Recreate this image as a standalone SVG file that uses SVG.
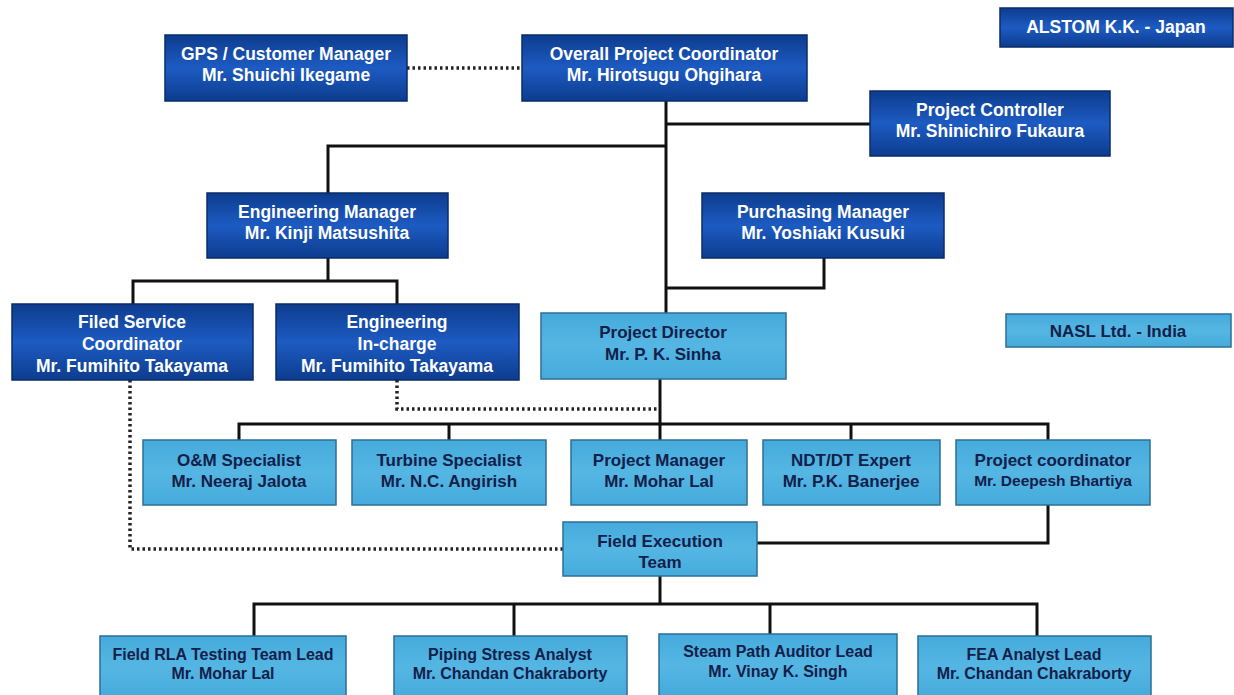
<svg xmlns="http://www.w3.org/2000/svg" width="1234" height="695" viewBox="0 0 1234 695">
<defs>
<linearGradient id="dk" x1="0" y1="0" x2="0" y2="1">
<stop offset="0" stop-color="#0d3c8e"/>
<stop offset="0.5" stop-color="#1d5bc2"/>
<stop offset="1" stop-color="#0d3c8e"/>
</linearGradient>
<linearGradient id="lt" x1="0" y1="0" x2="0" y2="1">
<stop offset="0" stop-color="#45abdc"/>
<stop offset="0.5" stop-color="#55b6e3"/>
<stop offset="1" stop-color="#45abdc"/>
</linearGradient>
</defs>
<style>
.dk rect{fill:url(#dk);stroke:#0a2c6a;stroke-width:1.5}
.lt rect{fill:url(#lt);stroke:#2c6f95;stroke-width:1.5}
text{font-family:"Liberation Sans",Arial,sans-serif;font-weight:bold;font-size:17px;text-anchor:middle}
.dk text{fill:#ffffff;font-size:17.5px}
.lt text{fill:#13204a}
.sm{font-size:16px}
.ln{fill:none;stroke:#111;stroke-width:3}
.dt{fill:none;stroke:#222;stroke-width:3.5;stroke-dasharray:2.5 3}
</style>
<rect width="1234" height="695" fill="#ffffff"/>
<g id="connectors">
<path class="dt" d="M407 68 H522"/>
<path class="ln" d="M666 101 V313"/>
<path class="ln" d="M666 124 H870"/>
<path class="ln" d="M666 146 H328 V193"/>
<path class="ln" d="M824 258 V288 H666"/>
<path class="ln" d="M328 258 V281"/>
<path class="ln" d="M133 304 V281 H397 V304"/>
<path class="dt" d="M397 380 V409 H660"/>
<path class="ln" d="M660 379 V440"/>
<path class="ln" d="M239 440 V424 H1048 V440"/>
<path class="ln" d="M449 424 V440"/>
<path class="ln" d="M851 424 V440"/>
<path class="ln" d="M1048 505 V543 H757"/>
<path class="dt" d="M130 380 V549 H563"/>
<path class="ln" d="M660 576 V604"/>
<path class="ln" d="M254 636 V604 H1037 V636"/>
<path class="ln" d="M514 604 V636"/>
<path class="ln" d="M770 604 V634"/>
</g>
<g id="gps" class="dk"><rect x="165" y="35" width="242" height="66"/><text x="286" y="60">GPS / Customer Manager</text><text x="286" y="81">Mr. Shuichi Ikegame</text></g>
<g id="opc" class="dk"><rect x="522" y="35" width="285" height="66"/><text x="664" y="60">Overall Project Coordinator</text><text x="664" y="81">Mr. Hirotsugu Ohgihara</text></g>
<g id="alstom" class="dk"><rect x="1000" y="8" width="233" height="39"/><text x="1116" y="33">ALSTOM K.K. - Japan</text></g>
<g id="controller" class="dk"><rect x="870" y="91" width="240" height="65"/><text x="990" y="116">Project Controller</text><text x="990" y="137">Mr. Shinichiro Fukaura</text></g>
<g id="engmgr" class="dk"><rect x="207" y="193" width="241" height="65"/><text x="327" y="218">Engineering Manager</text><text x="327" y="239">Mr. Kinji Matsushita</text></g>
<g id="purch" class="dk"><rect x="702" y="193" width="242" height="65"/><text x="823" y="218">Purchasing Manager</text><text x="823" y="239">Mr. Yoshiaki Kusuki</text></g>
<g id="fsc" class="dk"><rect x="12" y="304" width="241" height="76"/><text x="132" y="328">Filed Service</text><text x="132" y="350">Coordinator</text><text x="132" y="372">Mr. Fumihito Takayama</text></g>
<g id="eic" class="dk"><rect x="276" y="304" width="243" height="76"/><text x="397" y="328">Engineering</text><text x="397" y="350">In-charge</text><text x="397" y="372">Mr. Fumihito Takayama</text></g>
<g id="pd" class="lt"><rect x="541" y="313" width="245" height="66"/><text x="663" y="338">Project Director</text><text x="663" y="360">Mr. P. K. Sinha</text></g>
<g id="nasl" class="lt"><rect x="1006" y="314" width="225" height="33"/><text x="1118" y="337">NASL Ltd. - India</text></g>
<g id="om" class="lt"><rect x="143" y="440" width="193" height="65"/><text x="239" y="466">O&amp;M Specialist</text><text x="239" y="487">Mr. Neeraj Jalota</text></g>
<g id="turb" class="lt"><rect x="352" y="440" width="194" height="65"/><text x="449" y="466">Turbine Specialist</text><text x="449" y="487">Mr. N.C. Angirish</text></g>
<g id="pm" class="lt"><rect x="571" y="440" width="176" height="65"/><text x="659" y="466">Project Manager</text><text x="659" y="487">Mr. Mohar Lal</text></g>
<g id="ndt" class="lt"><rect x="763" y="440" width="177" height="65"/><text x="851" y="466">NDT/DT Expert</text><text x="851" y="487">Mr. P.K. Banerjee</text></g>
<g id="pc" class="lt"><rect x="956" y="440" width="194" height="65"/><text x="1053" y="466">Project coordinator</text><text x="1053" y="486" class="sm" style="font-size:15.5px">Mr. Deepesh Bhartiya</text></g>
<g id="fet" class="lt"><rect x="563" y="522" width="194" height="54"/><text x="660" y="547">Field Execution</text><text x="660" y="568">Team</text></g>
<g id="rla" class="lt"><rect x="100" y="636" width="246" height="62"/><text x="223" y="660" class="sm">Field RLA Testing Team Lead</text><text x="223" y="679" class="sm">Mr. Mohar Lal</text></g>
<g id="piping" class="lt"><rect x="394" y="636" width="233" height="62"/><text x="510" y="660" class="sm">Piping Stress Analyst</text><text x="510" y="679" class="sm">Mr. Chandan Chakraborty</text></g>
<g id="steam" class="lt"><rect x="659" y="634" width="238" height="62"/><text x="778" y="657" class="sm">Steam Path Auditor Lead</text><text x="778" y="677" class="sm">Mr. Vinay K. Singh</text></g>
<g id="fea" class="lt"><rect x="918" y="636" width="233" height="62"/><text x="1034" y="660" class="sm">FEA Analyst Lead</text><text x="1034" y="679" class="sm">Mr. Chandan Chakraborty</text></g>
</svg>
